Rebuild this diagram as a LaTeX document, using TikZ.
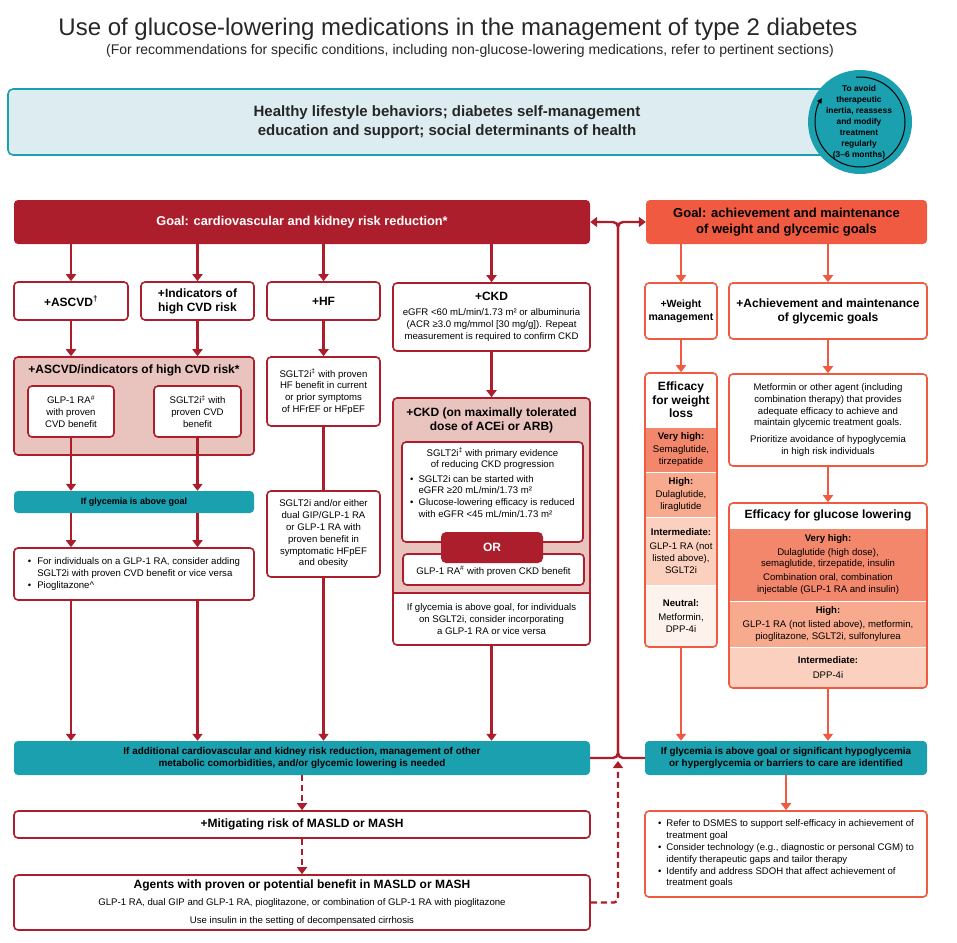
\documentclass[tikz,border=0pt]{standalone}
\usepackage{fontspec}
\setmainfont{Liberation Sans}
\usepackage{xcolor}
\usetikzlibrary{arrows.meta,positioning,calc}
\definecolor{adared}{RGB}{173,30,45}
\definecolor{adaorange}{RGB}{239,90,65}
\definecolor{adateal}{RGB}{27,160,175}
\definecolor{lifeblue}{RGB}{221,236,240}
\definecolor{riskpink}{RGB}{233,196,190}
\definecolor{effvhigh}{RGB}{242,135,107}
\definecolor{effhigh}{RGB}{248,170,142}
\definecolor{effmid}{RGB}{251,208,190}
\definecolor{effneutral}{RGB}{254,242,236}
\newcommand{\fbody}{\fontsize{9.6}{11.8}\selectfont}
\newcommand{\fhead}{\fontsize{12}{14}\selectfont\bfseries}
\newcommand{\fteal}{\fontsize{9.9}{11.2}\selectfont\bfseries}

\begin{document}
\begin{tikzpicture}[x=1pt,y=-1pt,
  box/.style={draw,line width=1.6pt,rounded corners=4pt,fill=white,inner sep=1pt,align=center,font=\fbody},
  redbox/.style={box,draw=adared},
  orangebox/.style={box,draw=adaorange},
  tealbar/.style={fill=adateal,rounded corners=4pt,inner sep=1pt,align=center,font=\fteal},
  band/.style={draw=white,line width=1pt,inner sep=0pt,align=center,font=\fbody},
  redarrow/.style={-{Triangle[width=10pt,length=7pt]},line width=2.4pt,adared},
  orangearrow/.style={redarrow,adaorange},
  dasharrow/.style={redarrow,dash pattern=on 6pt off 4pt}]
\useasboundingbox (0,0) rectangle (957,942);

% title
\node[text=black!85,font=\fontsize{24}{27}\selectfont] (title) at (458,29) {Use of glucose-lowering medications in the management of type 2 diabetes};
\node[text=black!85,font=\fontsize{14}{16}\selectfont] (subtitle) at (470,51) {(For recommendations for specific conditions, including non-glucose-lowering medications, refer to pertinent sections)};

% lifestyle + reassess circle
\node[draw=adateal,line width=1.6pt,fill=lifeblue,rounded corners=5pt,minimum width=878pt,minimum height=66pt,align=center,text=black!85,font=\fontsize{15}{19}\selectfont\bfseries] (life) at (447,122) {Healthy lifestyle behaviors; diabetes self-management\\education and support; social determinants of health};
\node[circle,fill=adateal,minimum size=104pt,inner sep=0pt] (reassess) at (860,122) {};
\draw[line width=1pt,-{Triangle[width=5pt,length=5pt]}] (reassess.center) ++(95:45pt) arc[start angle=95,end angle=-212,radius=45pt];
\node[align=center,font=\fontsize{8.4}{11}\selectfont\bfseries] (reassesstext) at (859,122) {To avoid\\therapeutic\\inertia, reassess\\and modify\\treatment\\regularly\\(3–6 months)};

% goals
\node[fill=adared,rounded corners=4pt,minimum width=576pt,minimum height=44pt,text=white,font=\fontsize{12.8}{15}\selectfont\bfseries] (goalcv) at (302,222) {Goal: cardiovascular and kidney risk reduction*};
\node[fill=adaorange,rounded corners=4pt,minimum width=281pt,minimum height=44pt,align=center,font=\fontsize{13}{16.5}\selectfont\bfseries] (goalgly) at (786.5,222) {Goal: achievement and maintenance\\of weight and glycemic goals};

% cardiovascular and kidney side
\node[redbox,minimum width=114pt,minimum height=38pt,font=\fhead] (ascvd) at (71,301) {+ASCVD\textsuperscript{†}};
\node[redbox,minimum width=113pt,minimum height=38pt,font=\fhead] (highcvd) at (197.5,301) {+Indicators of\\high CVD risk};
\node[redbox,minimum width=113pt,minimum height=38pt,font=\fhead] (hf) at (323.5,301) {+HF};
\node[redbox,minimum width=197pt,minimum height=68pt] (ckd) at (491.5,317) {{\fhead +CKD}\\[3pt]eGFR <60 mL/min/1.73 m² or albuminuria\\(ACR ≥3.0 mg/mmol [30 mg/g]). Repeat\\measurement is required to confirm CKD};

\node[redbox,fill=riskpink,minimum width=240pt,minimum height=98pt] (cvdgroup) at (134,406) {};
\node[font=\fhead] (cvdgrouphead) at (134,370) {+ASCVD/indicators of high CVD risk*};
\node[redbox,minimum width=86pt,minimum height=51pt] (glpcvd) at (71,411.5) {GLP-1 RA\textsuperscript{\#}\\with proven\\CVD benefit};
\node[redbox,minimum width=87pt,minimum height=51pt] (sgltcvd) at (197.5,411.5) {SGLT2i\textsuperscript{‡} with\\proven CVD\\benefit};

\node[redbox,minimum width=113pt,minimum height=69pt] (hfsglt) at (323.5,391.5) {SGLT2i\textsuperscript{‡} with proven\\HF benefit in current\\or prior symptoms\\of HFrEF or HFpEF};
\node[redbox,minimum width=113pt,minimum height=86pt] (hfdual) at (323.5,534) {SGLT2i and/or either\\dual GIP/GLP-1 RA\\or GLP-1 RA with\\proven benefit in\\symptomatic HFpEF\\and obesity};

\node[tealbar,minimum width=240pt,minimum height=22pt,font=\fontsize{9}{10}\selectfont\bfseries] (glycabove) at (134,502) {If glycemia is above goal};
\node[redbox,minimum width=240pt,minimum height=52pt] (cvdadd) at (134,574) {\begin{tabular}{@{}l@{\hspace{6pt}}l@{}}
\textbullet & For individuals on a GLP-1 RA, consider adding\\
 & SGLT2i with proven CVD benefit or vice versa\\
\textbullet & Pioglitazone\textasciicircum
\end{tabular}};

% CKD group
\begin{scope}
\clip[rounded corners=4pt] (393,398) rectangle (590,645);
\fill[riskpink] (393,398) rectangle (590,593);
\end{scope}
\node[redbox,fill=none,minimum width=197pt,minimum height=247pt] (ckdgroup) at (491.5,521.5) {};
\node[font=\fhead,align=center] (ckdhead) at (491.5,420) {+CKD (on maximally tolerated\\dose of ACEi or ARB)};
\node[redbox,minimum width=181pt,minimum height=100pt] (ckdsglt) at (492.5,492) {};
\node[font=\fbody,align=center,anchor=north] (ckdsglttext) at (492.5,444) {SGLT2i\textsuperscript{‡} with primary evidence\\of reducing CKD progression\\[3pt]\begin{tabular}{@{}l@{\hspace{5pt}}l@{}}
\textbullet & SGLT2i can be started with\\
 & eGFR ≥20 mL/min/1.73 m²\\
\textbullet & Glucose-lowering efficacy is reduced\\
 & with eGFR <45 mL/min/1.73 m²
\end{tabular}};
\node[redbox,minimum width=181pt,minimum height=31pt,text height=11pt] (ckdglp) at (493.5,569.5) {GLP-1 RA\textsuperscript{\#} with proven CKD benefit};
\node[fill=adared,rounded corners=5pt,minimum width=102pt,minimum height=31pt,text=white,font=\fontsize{12}{13}\selectfont\bfseries] (ckdor) at (492,547.5) {OR};
\node[minimum width=197pt,minimum height=52pt,inner sep=0pt,align=center,font=\fbody] (ckdnote) at (491.5,619) {If glycemia is above goal, for individuals\\on SGLT2i, consider incorporating\\a GLP-1 RA or vice versa};
\draw[adared,line width=1.6pt] (ckdnote.north west) -- (ckdnote.north east);

% bottom left
\node[tealbar,minimum width=576pt,minimum height=34pt] (moreneeded) at (302,758) {If additional cardiovascular and kidney risk reduction, management of other\\metabolic comorbidities, and/or glycemic lowering is needed};
\node[redbox,minimum width=576pt,minimum height=27pt,font=\fhead] (masld) at (302,824.5) {+Mitigating risk of MASLD or MASH};
\node[redbox,minimum width=576pt,minimum height=55pt] (masldagents) at (302,902.5) {{\fhead Agents with proven or potential benefit in MASLD or MASH}\\[5pt]GLP-1 RA, dual GIP and GLP-1 RA, pioglitazone, or combination of GLP-1 RA with pioglitazone\\[6pt]Use insulin in the setting of decompensated cirrhosis};

% weight and glycemic side
\node[orangebox,minimum width=72pt,minimum height=56pt,font=\fontsize{10.5}{13}\selectfont\bfseries] (weight) at (681,311) {+Weight\\management};
\node[orangebox,minimum width=198pt,minimum height=56pt,font=\fhead] (glygoals) at (828,311) {+Achievement and maintenance\\of glycemic goals};

\begin{scope}
\clip[rounded corners=4pt] (645,373) rectangle (717,647);
\node[band,fill=white,minimum width=72pt,minimum height=54pt,font=\fontsize{12}{13.5}\selectfont\bfseries] (wltitle) at (681,400) {Efficacy\\for weight\\loss};
\node[band,fill=effvhigh,minimum width=72pt,minimum height=45pt] (wlvhigh) at (681,449.5) {\textbf{Very high:}\\[2pt]Semaglutide,\\tirzepatide};
\node[band,fill=effhigh,minimum width=72pt,minimum height=45pt] (wlhigh) at (681,494.5) {\textbf{High:}\\[2pt]Dulaglutide,\\liraglutide};
\node[band,fill=effmid,minimum width=72pt,minimum height=68pt] (wlmid) at (681,551) {\textbf{Intermediate:}\\[2pt]GLP-1 RA (not\\listed above),\\SGLT2i};
\node[band,fill=effneutral,minimum width=72pt,minimum height=62pt] (wlneutral) at (681,616) {\textbf{Neutral:}\\[3pt]Metformin,\\DPP-4i};
\end{scope}
\node[orangebox,fill=none,minimum width=72pt,minimum height=274pt] (weighteff) at (681,510) {};

\node[orangebox,minimum width=198pt,minimum height=92pt] (metformin) at (828,420) {Metformin or other agent (including\\combination therapy) that provides\\adequate efficacy to achieve and\\maintain glycemic treatment goals.\\[5pt]Prioritize avoidance of hypoglycemia\\in high risk individuals};

\begin{scope}
\clip[rounded corners=4pt] (729,503) rectangle (927,688);
\node[band,fill=white,minimum width=198pt,minimum height=25pt,font=\fhead] (gltitle) at (828,515.5) {Efficacy for glucose lowering};
\node[band,fill=effvhigh,minimum width=198pt,minimum height=73pt] (glvhigh) at (828,564.5) {\textbf{Very high:}\\[2pt]Dulaglutide (high dose),\\semaglutide, tirzepatide, insulin\\[2pt]Combination oral, combination\\injectable (GLP-1 RA and insulin)};
\node[band,fill=effhigh,minimum width=198pt,minimum height=46pt] (glhigh) at (828,624) {\textbf{High:}\\[2pt]GLP-1 RA (not listed above), metformin,\\pioglitazone, SGLT2i, sulfonylurea};
\node[band,fill=effmid,minimum width=198pt,minimum height=41pt] (glmid) at (828,667.5) {\textbf{Intermediate:}\\[3pt]DPP-4i};
\end{scope}
\node[orangebox,fill=none,minimum width=198pt,minimum height=185pt] (glucoseeff) at (828,595.5) {};

\node[tealbar,minimum width=282pt,minimum height=34pt] (glyrevisit) at (786,758) {If glycemia is above goal or significant hypoglycemia\\or hyperglycemia or barriers to care are identified};
\node[orangebox,minimum width=282pt,minimum height=86pt] (glysupport) at (786,854) {\begin{tabular}{@{}l@{\hspace{5pt}}l@{}}
\textbullet & Refer to DSMES to support self-efficacy in achievement of\\
 & treatment goal\\
\textbullet & Consider technology (e.g., diagnostic or personal CGM) to\\
 & identify therapeutic gaps and tailor therapy\\
\textbullet & Identify and address SDOH that affect achievement of\\
 & treatment goals
\end{tabular}};

% red connectors
\draw[redarrow] (ascvd |- goalcv.south) -- (ascvd.north);
\draw[redarrow] (highcvd |- goalcv.south) -- (highcvd.north);
\draw[redarrow] (hf |- goalcv.south) -- (hf.north);
\draw[redarrow] (ckd |- goalcv.south) -- (ckd.north);
\draw[redarrow] (ascvd.south) -- (ascvd.south |- cvdgroup.north);
\draw[redarrow] (highcvd.south) -- (highcvd.south |- cvdgroup.north);
\draw[redarrow] (hf.south) -- (hfsglt.north);
\draw[redarrow] (ckd.south) -- (ckdgroup.north);
\draw[redarrow] (glpcvd.south) -- (glpcvd.south |- glycabove.north);
\draw[redarrow] (sgltcvd.south) -- (sgltcvd.south |- glycabove.north);
\draw[redarrow] (glpcvd.south |- glycabove.south) -- (glpcvd.south |- cvdadd.north);
\draw[redarrow] (sgltcvd.south |- glycabove.south) -- (sgltcvd.south |- cvdadd.north);
\draw[line width=2.4pt,adared] (hfsglt.south) -- (hfdual.north);
\draw[redarrow] (glpcvd.south |- cvdadd.south) -- (glpcvd.south |- moreneeded.north);
\draw[redarrow] (sgltcvd.south |- cvdadd.south) -- (sgltcvd.south |- moreneeded.north);
\draw[redarrow] (hfdual.south) -- (hfdual.south |- moreneeded.north);
\draw[redarrow] (ckdgroup.south) -- (ckdgroup.south |- moreneeded.north);
\draw[dasharrow] (moreneeded.south) -- (masld.north);
\draw[dasharrow] (masld.south) -- (masldagents.north);

% loop back to both goals
\coordinate (spinetop) at (618,222);
\coordinate (spinebottom) at (618,758);
\coordinate (spinefoot) at (618,761);
\draw[redarrow,rounded corners=5pt] (moreneeded.east) -- (spinebottom) -- (spinetop) -- (goalgly.west);
\draw[redarrow,rounded corners=5pt] (glyrevisit.west) -- (spinebottom) -- (spinetop) -- (goalcv.east);
\draw[dasharrow,rounded corners=4pt] (masldagents.east) -| (spinefoot);

% orange connectors
\draw[orangearrow] (weight |- goalgly.south) -- (weight.north);
\draw[orangearrow] (glygoals |- goalgly.south) -- (glygoals.north);
\draw[orangearrow] (weight.south) -- (weighteff.north);
\draw[orangearrow] (glygoals.south) -- (metformin.north);
\draw[orangearrow] (metformin.south) -- (glucoseeff.north);
\draw[orangearrow] (weighteff.south) -- (weighteff.south |- glyrevisit.north);
\draw[orangearrow] (glucoseeff.south) -- (glucoseeff.south |- glyrevisit.north);
\draw[orangearrow] (glyrevisit.south) -- (glysupport.north);
\end{tikzpicture}
\end{document}
